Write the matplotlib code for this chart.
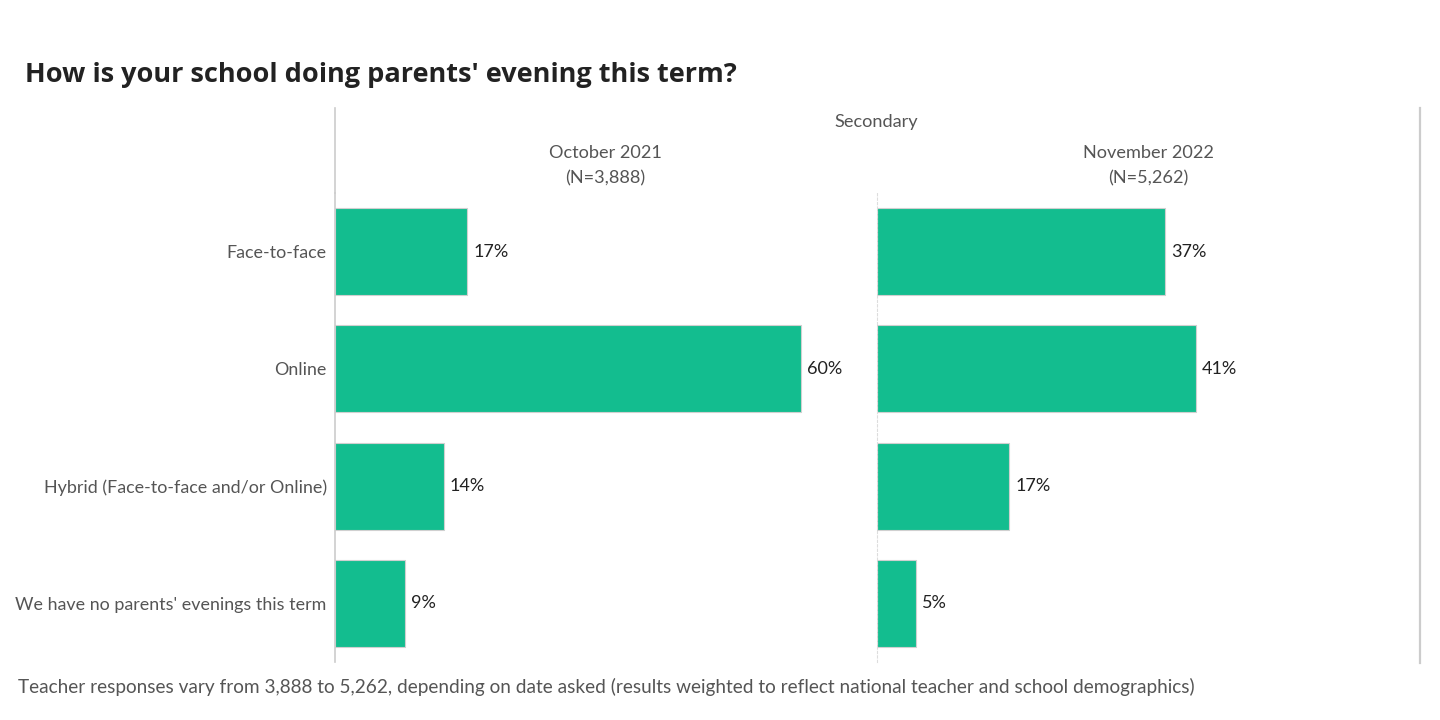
import matplotlib
import matplotlib.pyplot as plt

matplotlib.use('agg')
plt.rcParams['font.family'] = ['Lato', 'DejaVu Sans']

categories = ['Face-to-face', 'Online', 'Hybrid (Face-to-face and/or Online)',
              'We have no parents\' evenings this term']
oct_2021 = [17, 60, 14, 9]
nov_2022 = [37, 41, 17, 5]
panel_titles = ['October 2021\n(N=3,888)', 'November 2022\n(N=5,262)']

bar_color = '#13BD8F'
grey = '#555555'

fig = plt.figure(figsize=(14.4, 7.2), dpi=100, facecolor='white')
W, H = 1440, 720

def px_axes(x0, y0, x1, y1):
    return fig.add_axes([x0 / W, 1 - y1 / H, (x1 - x0) / W, (y1 - y0) / H])

ax1 = px_axes(335, 193, 877, 662)
ax2 = px_axes(877, 193, 1420, 662)

for i, (ax, vals) in enumerate([(ax1, oct_2021), (ax2, nov_2022)]):
    ypos = list(range(len(categories)))
    ax.barh(ypos, vals, height=0.74, color=bar_color, edgecolor='#d0d0d0', linewidth=0.8)
    for y, v in zip(ypos, vals):
        ax.text(v + 0.8, y, f'{v}%', va='center', ha='left', fontsize=13, color='#222222')
    ax.set_xlim(0, 69.8)
    ax.set_ylim(len(categories) - 0.5, -0.5)
    ax.set_xticks([])
    for s in ['top', 'right', 'bottom']:
        ax.spines[s].set_visible(False)
    ax.tick_params(axis='y', length=0)
    if i == 0:
        ax.spines['left'].set_color('#cccccc')
        ax.spines['left'].set_linewidth(1.2)
        ax.set_yticks(ypos)
        ax.set_yticklabels(categories, fontsize=12.9, color=grey)
        ax.tick_params(axis='y', pad=6)
    else:
        ax.spines['left'].set_color('#dddddd')
        ax.spines['left'].set_linestyle((0, (2, 2)))
        ax.spines['left'].set_linewidth(0.8)
        ax.set_yticks([])
    ax.patch.set_alpha(0)

# header area lines
fig.add_artist(plt.Line2D([335 / W, 335 / W], [1 - 108 / H, 1 - 193 / H], color='#cccccc', lw=1.2))
fig.add_artist(plt.Line2D([1420 / W, 1420 / W], [1 - 108 / H, 1 - 663 / H], color='#cccccc', lw=1.6))

fig.text(876 / W, 1 - 122 / H, 'Secondary', ha='center', va='center', fontsize=13.1, color=grey)
fig.text(605 / W, 1 - 166 / H, panel_titles[0], ha='center', va='center', fontsize=13.1,
         color=grey, linespacing=1.7)
fig.text(1148 / W, 1 - 166 / H, panel_titles[1], ha='center', va='center', fontsize=13.1,
         color=grey, linespacing=1.7)

fig.text(25 / W, 1 - 75 / H, "How is your school doing parents' evening this term?",
         ha='left', va='center', fontsize=19.5, fontweight='bold', color='#222222',
         family=['Open Sans', 'DejaVu Sans'])
fig.text(18 / W, 1 - 687 / H,
         'Teacher responses vary from 3,888 to 5,262, depending on date asked '
         '(results weighted to reflect national teacher and school demographics)',
         ha='left', va='center', fontsize=13.7, color=grey)

plt.savefig('out.png', dpi=100, facecolor='white')
